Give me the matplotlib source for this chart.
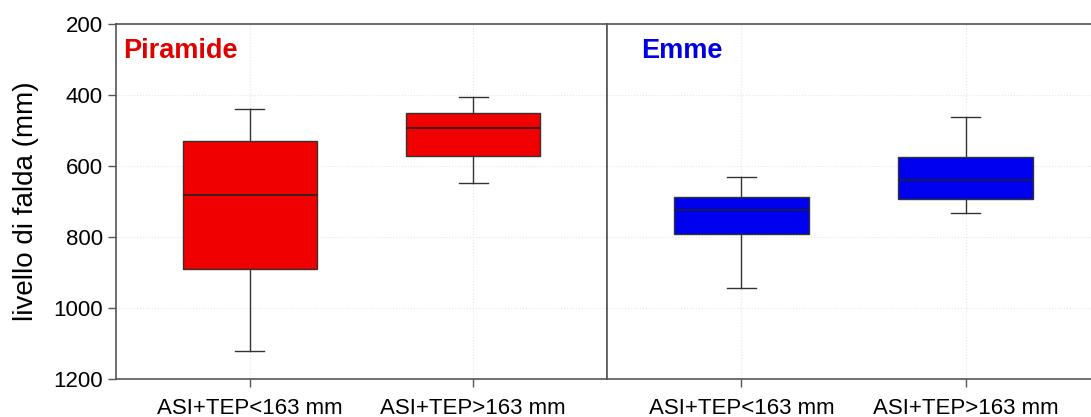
import numpy as np
import matplotlib.pyplot as plt

plt.rcParams['font.family'] = ['Liberation Sans', 'DejaVu Sans']

# valori (mm)
categorie = ["ASI+TEP<163 mm", "ASI+TEP>163 mm"]
siti = ["Piramide", "Emme"]
colori = ["#f00000", "#0000f0"]
coloriTesto = ["#e00000", "#0000e0"]
baffoSup = [[438, 405], [630, 462]]
q1 = [[530, 450], [687, 575]]
mediana = [[683, 492], [724, 638]]
q3 = [[890, 573], [791, 694]]
baffoInf = [[1121, 647], [944, 731]]

fig = plt.figure(figsize=(10.91, 4.17), dpi=100)
ax1 = fig.add_axes([0.1063, 0.0911, 0.4500, 0.8513])
ax2 = fig.add_axes([0.5563, 0.0911, 0.4520, 0.8513])

for k, ax in enumerate([ax1, ax2]):
    stats = []
    for i in range(2):
        stats.append({"whislo": baffoSup[k][i], "q1": q1[k][i], "med": mediana[k][i],
                      "q3": q3[k][i], "whishi": baffoInf[k][i], "fliers": []})
    ax.bxp(stats, positions=[1, 2], widths=0.6, patch_artist=True, capwidths=0.13,
           boxprops=dict(facecolor=colori[k], edgecolor="#333333", linewidth=1.0),
           medianprops=dict(color="#222222", linewidth=1.2),
           whiskerprops=dict(color="#333333", linewidth=1.0),
           capprops=dict(color="#333333", linewidth=1.0))
    ax.set_xlim(0.4, 2.6)
    ax.set_ylim(1200, 200)
    ax.set_xticks([1, 2])
    ax.set_xticklabels(categorie, fontsize=16)
    ax.set_yticks([200, 400, 600, 800, 1000, 1200])
    ax.grid(True, color="#e6e6e6", linestyle=":", linewidth=0.8)
    ax.set_axisbelow(True)
    for s in ax.spines.values():
        s.set_color("#555555")
        s.set_linewidth(1.2)
    ax.tick_params(axis="x", length=6, width=1, color="#555555", pad=8)
    ax.text(0.014 if k == 0 else 0.07, 0.925, siti[k], transform=ax.transAxes,
            fontsize=19.5, fontweight="bold", color=coloriTesto[k], va="center")

ax1.tick_params(axis="y", labelsize=16, length=6, width=1, color="#555555")
ax1.set_ylabel("livello di falda (mm)", fontsize=20, labelpad=10)
ax2.tick_params(axis="y", left=False, labelleft=False)

fig.savefig("out.png", dpi=100)
